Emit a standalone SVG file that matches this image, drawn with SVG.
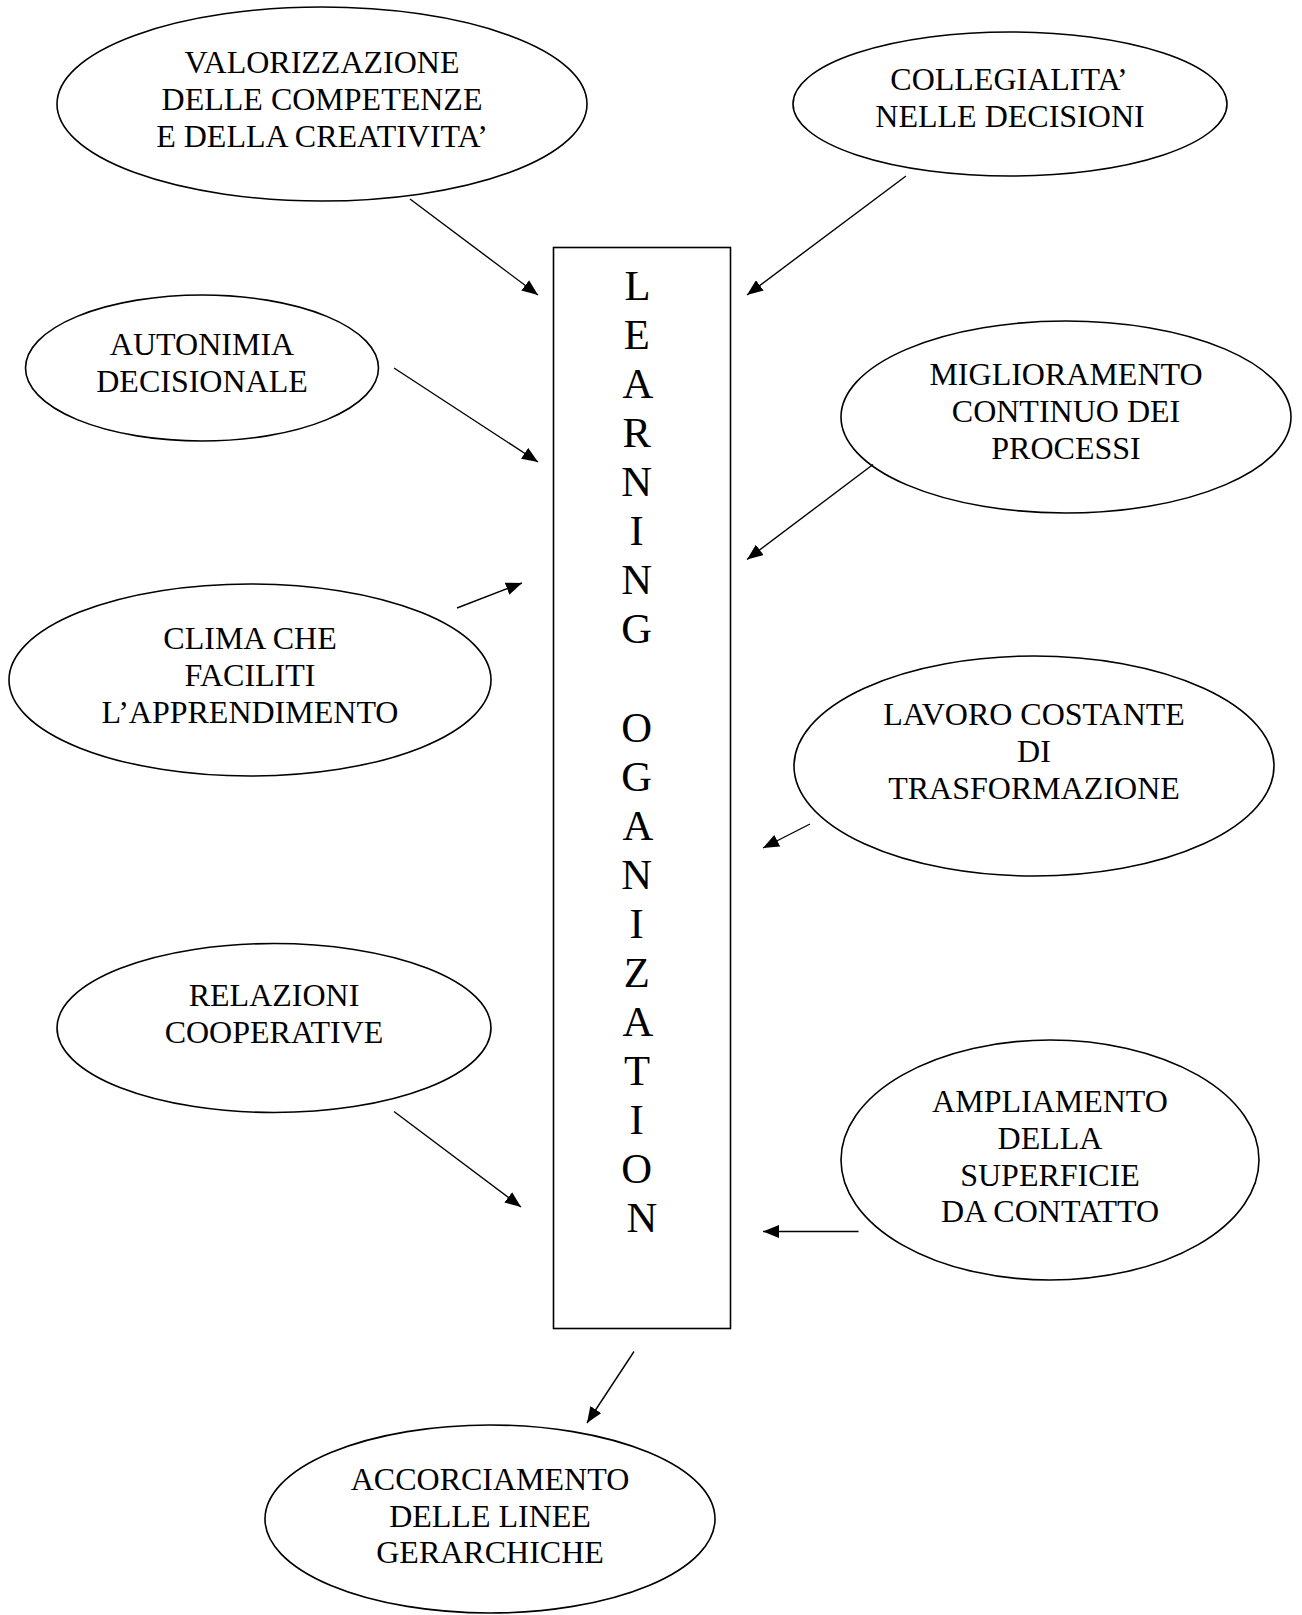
<svg xmlns="http://www.w3.org/2000/svg" width="1302" height="1615" viewBox="0 0 1302 1615">
<style>
.bg{fill:#ffffff}
.node ellipse,.node rect{fill:#ffffff;stroke:#000000;stroke-width:1.6}
.lbl{font-family:"Liberation Serif","Times New Roman",serif;font-size:32px;fill:#000000;text-anchor:middle}
.big{font-family:"Liberation Serif","Times New Roman",serif;font-size:42.67px;fill:#000000;text-anchor:middle}
.conn line{stroke:#000000;stroke-width:1.4;fill:none;marker-end:url(#ah)}
</style>
<defs>
<marker id="ah" viewBox="0 0 16 13" refX="16" refY="6.5" markerWidth="16" markerHeight="13" markerUnits="userSpaceOnUse" orient="auto">
<path d="M0,0 L16,6.5 L0,13 z" fill="#000000"/>
</marker>
</defs>
<rect class="bg" x="0" y="0" width="1302" height="1615"/>

<g id="node-valorizzazione" class="node">
<ellipse cx="322" cy="104" rx="265" ry="97"/>
<text class="lbl" x="322" y="73">VALORIZZAZIONE</text>
<text class="lbl" x="322" y="110">DELLE COMPETENZE</text>
<text class="lbl" x="322" y="147">E DELLA CREATIVITA’</text>
</g>

<g id="node-collegialita" class="node">
<ellipse cx="1010" cy="104" rx="217" ry="72"/>
<text class="lbl" x="1009" y="90">COLLEGIALITA’</text>
<text class="lbl" x="1010" y="127">NELLE DECISIONI</text>
</g>

<g id="node-autonimia" class="node">
<ellipse cx="202" cy="368" rx="176.5" ry="73"/>
<text class="lbl" x="202" y="355">AUTONIMIA</text>
<text class="lbl" x="202" y="392">DECISIONALE</text>
</g>

<g id="node-clima" class="node">
<ellipse cx="250" cy="680" rx="241" ry="96"/>
<text class="lbl" x="250" y="649">CLIMA CHE</text>
<text class="lbl" x="250" y="686">FACILITI</text>
<text class="lbl" x="250" y="723">L’APPRENDIMENTO</text>
</g>

<g id="node-miglioramento" class="node">
<ellipse cx="1066" cy="417" rx="225" ry="96"/>
<text class="lbl" x="1066" y="385">MIGLIORAMENTO</text>
<text class="lbl" x="1066" y="422">CONTINUO DEI</text>
<text class="lbl" x="1066" y="459">PROCESSI</text>
</g>

<g id="node-lavoro" class="node">
<ellipse cx="1034" cy="766" rx="240" ry="110"/>
<text class="lbl" x="1034" y="725">LAVORO COSTANTE</text>
<text class="lbl" x="1034" y="762">DI</text>
<text class="lbl" x="1034" y="799">TRASFORMAZIONE</text>
</g>

<g id="node-relazioni" class="node">
<ellipse cx="274" cy="1028" rx="217" ry="84.5"/>
<text class="lbl" x="274" y="1006">RELAZIONI</text>
<text class="lbl" x="274" y="1043">COOPERATIVE</text>
</g>

<g id="node-ampliamento" class="node">
<ellipse cx="1050" cy="1160" rx="209" ry="120"/>
<text class="lbl" x="1050" y="1112">AMPLIAMENTO</text>
<text class="lbl" x="1050" y="1149">DELLA</text>
<text class="lbl" x="1050" y="1186">SUPERFICIE</text>
<text class="lbl" x="1050" y="1222">DA CONTATTO</text>
</g>

<g id="node-accorciamento" class="node">
<ellipse cx="490" cy="1519" rx="225" ry="94"/>
<text class="lbl" x="490" y="1490">ACCORCIAMENTO</text>
<text class="lbl" x="490" y="1527">DELLE LINEE</text>
<text class="lbl" x="490" y="1563">GERARCHICHE</text>
</g>

<g id="node-learning" class="node">
<rect x="553.5" y="247.5" width="177" height="1081"/>
<text class="big">
<tspan x="642" y="300">L</tspan>
<tspan x="642" y="349.07">E</tspan>
<tspan x="642" y="398.14">A</tspan>
<tspan x="642" y="447.21">R</tspan>
<tspan x="642" y="496.28">N</tspan>
<tspan x="642" y="545.35">I</tspan>
<tspan x="642" y="594.42">N</tspan>
<tspan x="642" y="643.49">G</tspan>
<tspan x="642" y="741.63">O</tspan>
<tspan x="642" y="790.7">G</tspan>
<tspan x="642" y="839.77">A</tspan>
<tspan x="642" y="888.84">N</tspan>
<tspan x="642" y="937.91">I</tspan>
<tspan x="642" y="986.98">Z</tspan>
<tspan x="642" y="1036.05">A</tspan>
<tspan x="642" y="1085.12">T</tspan>
<tspan x="642" y="1134.19">I</tspan>
<tspan x="642" y="1183.26">O</tspan>
<tspan x="642" y="1232.33">N</tspan>
</text>
</g>

<g id="connectors" class="conn">
<line x1="410" y1="199" x2="538" y2="295"/>
<line x1="906" y1="176" x2="747" y2="295"/>
<line x1="394" y1="368" x2="538" y2="462"/>
<line x1="457" y1="608" x2="522" y2="583"/>
<line x1="873" y1="464.5" x2="747" y2="559.5"/>
<line x1="810" y1="824" x2="763" y2="848"/>
<line x1="394" y1="1111.5" x2="521" y2="1207"/>
<line x1="858.5" y1="1231.5" x2="763" y2="1231.5"/>
<line x1="634" y1="1351.5" x2="587" y2="1423"/>
</g>
</svg>
